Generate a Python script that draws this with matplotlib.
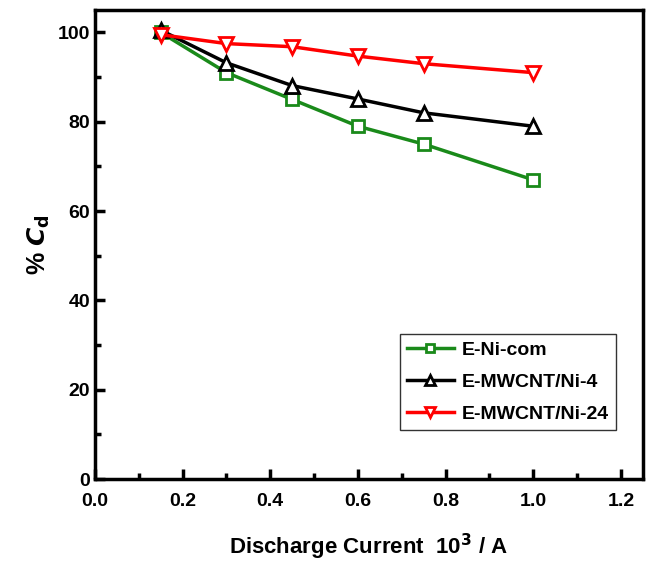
import matplotlib
matplotlib.use('Agg')
import matplotlib.pyplot as plt
from matplotlib.ticker import MultipleLocator

# values
current = [0.15, 0.3, 0.45, 0.6, 0.75, 1.0]
ni_com = [100, 91, 85, 79, 75, 67]
mwcnt_4 = [100.5, 93.2, 88.1, 85.1, 82.0, 79.0]
mwcnt_24 = [99.5, 97.5, 96.8, 94.7, 93.0, 91.0]

plt.rcParams['font.family'] = ['Liberation Sans', 'DejaVu Sans']
plt.rcParams['font.weight'] = 'bold'

fig = plt.figure(figsize=(6.46, 5.61), dpi=100)
ax = fig.add_axes([0.147, 0.146, 0.848, 0.836])

ax.plot(current, ni_com, color='#1a8a1a', lw=2.5, marker='s', ms=8,
        mfc='white', mec='#1a8a1a', mew=2, label='E-Ni-com')
ax.plot(current, mwcnt_4, color='black', lw=2.5, marker='^', ms=10,
        mfc='white', mec='black', mew=2, label='E-MWCNT/Ni-4')
ax.plot(current, mwcnt_24, color='red', lw=2.5, marker='v', ms=10,
        mfc='white', mec='red', mew=2, label='E-MWCNT/Ni-24')

ax.set_xlim(0, 1.25)
ax.set_ylim(0, 105)
ax.xaxis.set_major_locator(MultipleLocator(0.2))
ax.xaxis.set_minor_locator(MultipleLocator(0.1))
ax.yaxis.set_major_locator(MultipleLocator(20))
ax.yaxis.set_minor_locator(MultipleLocator(10))
ax.set_xticks([0, 0.2, 0.4, 0.6, 0.8, 1.0, 1.2])
ax.set_xticklabels(['0.0', '0.2', '0.4', '0.6', '0.8', '1.0', '1.2'])

ax.tick_params(which='both', direction='in', width=2.5, labelsize=14)
ax.tick_params(which='major', length=7)
ax.tick_params(which='minor', length=4)
ax.tick_params(axis='x', pad=10)
for s in ax.spines.values():
    s.set_linewidth(2.5)

ax.set_xlabel('Discharge Current  10$^{\\mathbf{3}}$ / A', fontsize=16,
              fontweight='bold', labelpad=16)
ax.set_ylabel('% $\\mathbfit{C}_{\\mathbf{d}}$', fontsize=18, fontweight='bold')

leg = ax.legend(loc='lower right', bbox_to_anchor=(0.968, 0.085), fontsize=14,
                frameon=True, fancybox=False, edgecolor='black',
                handlelength=2.4, borderpad=0.35, labelspacing=0.74,
                handletextpad=0.4, markerscale=0.65)
leg.get_frame().set_linewidth(1.0)

fig.savefig('out.png', dpi=100)
